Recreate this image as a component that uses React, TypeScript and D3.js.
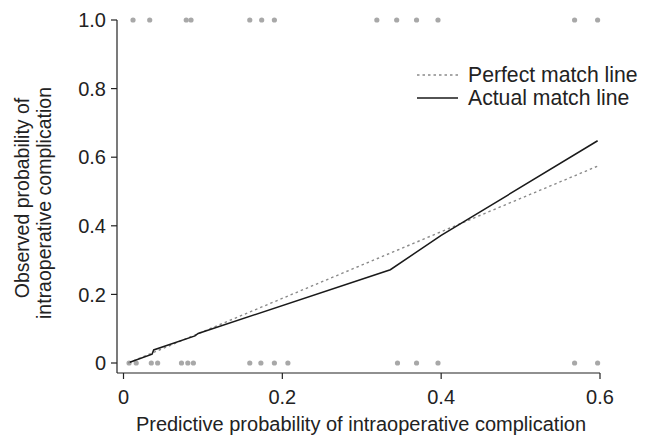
import React from "react";
import * as d3 from "d3";

// ---- data ----
const xTicks = [0, 0.2, 0.4, 0.6];
const xTickLabels = ["0", "0.2", "0.4", "0.6"];
const yTicks = [0, 0.2, 0.4, 0.6, 0.8, 1.0];
const yTickLabels = ["0", "0.2", "0.4", "0.6", "0.8", "1.0"];

// observed events (y = 1) and non-events (y = 0) at predicted probability
const eventPred = [0.012, 0.033, 0.079, 0.085, 0.159, 0.174, 0.19, 0.319, 0.344, 0.369, 0.396, 0.568, 0.597];
const nonEventPred = [0.007, 0.016, 0.035, 0.043, 0.073, 0.081, 0.088, 0.159, 0.173, 0.19, 0.207, 0.345, 0.369, 0.396, 0.568, 0.597];

// perfect match line (as drawn)
const perfectX = [0.006, 0.597];
const perfectY = [0.0, 0.574];

// actual match line
const actualX = [0.008, 0.036, 0.038, 0.09, 0.094, 0.336, 0.4, 0.597];
const actualY = [0.002, 0.026, 0.038, 0.079, 0.086, 0.272, 0.372, 0.648];

const legendLabels = ["Perfect match line", "Actual match line"];
const xTitle = "Predictive probability of intraoperative complication";
const yTitle = ["Observed probability of", "intraoperative complication"];

const W = 652;
const H = 440;
const FONT = "'Liberation Sans', Arial, Helvetica, sans-serif";
const TXT = "#222";
const FS = 20;

export default function App() {
  const x = d3.scaleLinear().domain([0, 0.6]).range([123.5, 600]);
  const y = d3.scaleLinear().domain([0, 1]).range([363, 20]);
  const axisX = 117;
  const axisY = 373;

  const line = d3
    .line<[number, number]>()
    .x((d) => x(d[0]))
    .y((d) => y(d[1]));

  const perfectPts: [number, number][] = perfectX.map((v, i) => [v, perfectY[i]]);
  const actualPts: [number, number][] = actualX.map((v, i) => [v, actualY[i]]);

  return (
    <svg
      width={W}
      height={H}
      style={{ position: "absolute", left: 0, top: 0, background: "#fff" }}
      fontFamily={FONT}
    >
      <rect width={W} height={H} fill="#fff" />
      {/* dots */}
      {eventPred.map((v, i) => (
        <circle key={"e" + i} cx={x(v)} cy={y(1)} r={2.6} fill="#a8a8a8" />
      ))}
      {nonEventPred.map((v, i) => (
        <circle key={"n" + i} cx={x(v)} cy={y(0)} r={2.6} fill="#a8a8a8" />
      ))}

      {/* lines */}
      <path d={line(perfectPts) || ""} fill="none" stroke="#8a8a8a" strokeWidth={1.4} strokeDasharray="2.5,3" />
      <path d={line(actualPts) || ""} fill="none" stroke="#1a1a1a" strokeWidth={1.5} />

      {/* axes */}
      <line x1={axisX} x2={axisX} y1={y(1)} y2={axisY} stroke={TXT} strokeWidth={1.2} />
      <line x1={axisX} x2={x(0.6)} y1={axisY} y2={axisY} stroke={TXT} strokeWidth={1.2} />
      {yTicks.map((t, i) => (
        <g key={"yt" + i}>
          <line x1={axisX - 6} x2={axisX} y1={y(t)} y2={y(t)} stroke={TXT} strokeWidth={1.2} />
          <text x={axisX - 11} y={y(t)} dy="0.36em" textAnchor="end" fontSize={FS} fill={TXT}>
            {yTickLabels[i]}
          </text>
        </g>
      ))}
      {xTicks.map((t, i) => (
        <g key={"xt" + i}>
          <line x1={x(t)} x2={x(t)} y1={axisY} y2={axisY + 6} stroke={TXT} strokeWidth={1.2} />
          <text x={x(t)} y={axisY + 31} textAnchor="middle" fontSize={FS} fill={TXT}>
            {xTickLabels[i]}
          </text>
        </g>
      ))}

      {/* axis titles */}
      <text x={361} y={431} textAnchor="middle" fontSize={FS} fill={TXT}>
        {xTitle}
      </text>
      <text transform="translate(29,198) rotate(-90)" textAnchor="middle" fontSize={19.5} fill={TXT}>
        {yTitle[0]}
      </text>
      <text transform="translate(51,203) rotate(-90)" textAnchor="middle" fontSize={19.5} fill={TXT}>
        {yTitle[1]}
      </text>

      {/* legend */}
      <line x1={417} x2={458} y1={75} y2={75} stroke="#8a8a8a" strokeWidth={1.4} strokeDasharray="2.5,3" />
      <text x={468} y={81.5} fontSize={21.2} fill={TXT}>
        {legendLabels[0]}
      </text>
      <line x1={417} x2={458} y1={98} y2={98} stroke="#1a1a1a" strokeWidth={1.5} />
      <text x={468} y={104.5} fontSize={21.2} fill={TXT}>
        {legendLabels[1]}
      </text>
    </svg>
  );
}
